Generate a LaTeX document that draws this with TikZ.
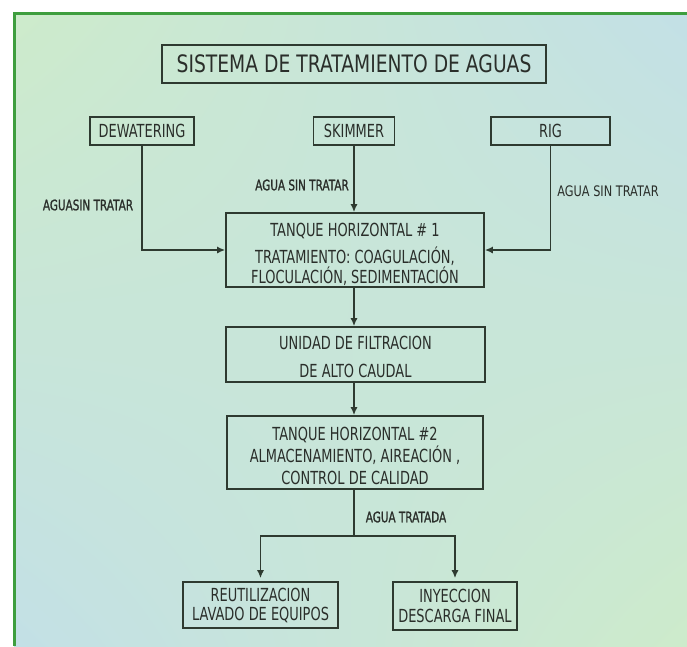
\documentclass[tikz,border=0pt]{standalone}
\usepackage{fontspec}
\usetikzlibrary{arrows.meta,shadings}
\newfontfamily\boxfont[FakeStretch=0.72]{DejaVu Sans}
\newfontfamily\titlefont[FakeStretch=0.78]{DejaVu Sans}
\newfontfamily\lblfont[FakeStretch=0.72,FakeBold=1.2]{DejaVu Sans}
\newfontfamily\lblreg[FakeStretch=0.78]{DejaVu Sans}
\definecolor{bgG}{HTML}{CDEBCB}
\definecolor{bgB}{HTML}{C3E0E6}
\definecolor{frameG}{HTML}{3E9E3E}
\definecolor{lineC}{HTML}{2E3A30}
\definecolor{txtC}{HTML}{2A2E2A}
\begin{document}
\begin{tikzpicture}[x=1pt,y=-1pt,
  box/.style={draw=lineC, line width=1.6pt, inner sep=0pt, text=txtC, align=center,
    font=\boxfont\fontsize{18}{22}\selectfont},
  conn/.style={draw=lineC, line width=1.6pt},
  arr/.style={conn, -{Latex[length=8pt,width=7pt]}},
  lbl/.style={text=txtC, inner sep=0pt, font=\lblfont\fontsize{14.5}{16}\selectfont},
  lblr/.style={text=txtC, inner sep=0pt, font=\lblreg\fontsize{14.5}{16}\selectfont},
]
\useasboundingbox (0,0) rectangle (687,646);
\fill[white] (0,0) rectangle (687,646);
\shade[upper left=bgG, upper right=bgB, lower left=bgB, lower right=bgG] (14,13) rectangle (687,646);
\draw[frameG, line width=3pt] (14,646) -- (14,13) -- (687,13);

\node[box, minimum width=384pt, minimum height=38pt, font=\titlefont\fontsize{24}{26}\selectfont] (title) at (354,64) {SISTEMA DE TRATAMIENTO DE AGUAS};

\node[box, minimum width=104pt, minimum height=28pt] (dew) at (142,131) {DEWATERING};
\node[box, minimum width=81pt, minimum height=28pt] (skim) at (354,131) {SKIMMER};
\node[box, minimum width=119pt, minimum height=28pt] (rig) at (550.5,131) {RIG};

\node[box, minimum width=258pt, minimum height=74pt, font=\boxfont\fontsize{18}{20}\selectfont] (t1) at (355,250) {\rule{0pt}{22pt}TANQUE HORIZONTAL \# 1\\[7pt]TRATAMIENTO: COAGULACIÓN,\\FLOCULACIÓN, SEDIMENTACIÓN};
\node[box, minimum width=259pt, minimum height=55pt] (filt) at (355.5,354.5) {\rule{0pt}{18pt}UNIDAD DE FILTRACION\\[6pt]DE ALTO CAUDAL};
\node[box, minimum width=256pt, minimum height=73pt] (t2) at (355,452.5) {\rule{0pt}{20pt}TANQUE HORIZONTAL \#2\\ALMACENAMIENTO, AIREACIÓN ,\\CONTROL DE CALIDAD};

\node[box, minimum width=155pt, minimum height=46pt, font=\boxfont\fontsize{18}{19}\selectfont] (reut) at (260.5,605) {REUTILIZACION\\LAVADO DE EQUIPOS};
\node[box, minimum width=124pt, minimum height=48pt, font=\boxfont\fontsize{18}{20}\selectfont] (iny) at (455,606) {INYECCION\\DESCARGA FINAL};

\coordinate (split) at (354,536);

\draw[arr] (dew.south) |- (t1.west);
\draw[arr] (skim.south) -- (skim.south |- t1.north);
\draw[arr] (rig.south) |- (t1.east);
\draw[arr] (t1.south -| skim.south) -- (filt.north -| skim.south);
\draw[arr] (filt.south -| skim.south) -- (t2.north -| skim.south);
\draw[conn] (t2.south -| split) -- (split);
\draw[arr, shorten >=3pt] (split) -| (reut.north);
\draw[arr, shorten >=3pt] (split) -| (iny.north);

\node[lbl] (l1) at (88,205) {AGUASIN TRATAR};
\node[lbl] (l2) at (302,185) {AGUA SIN TRATAR};
\node[lblr] (l3) at (608,191) {AGUA SIN TRATAR};
\node[lbl] (l4) at (406,517) {AGUA TRATADA};
\end{tikzpicture}
\end{document}
